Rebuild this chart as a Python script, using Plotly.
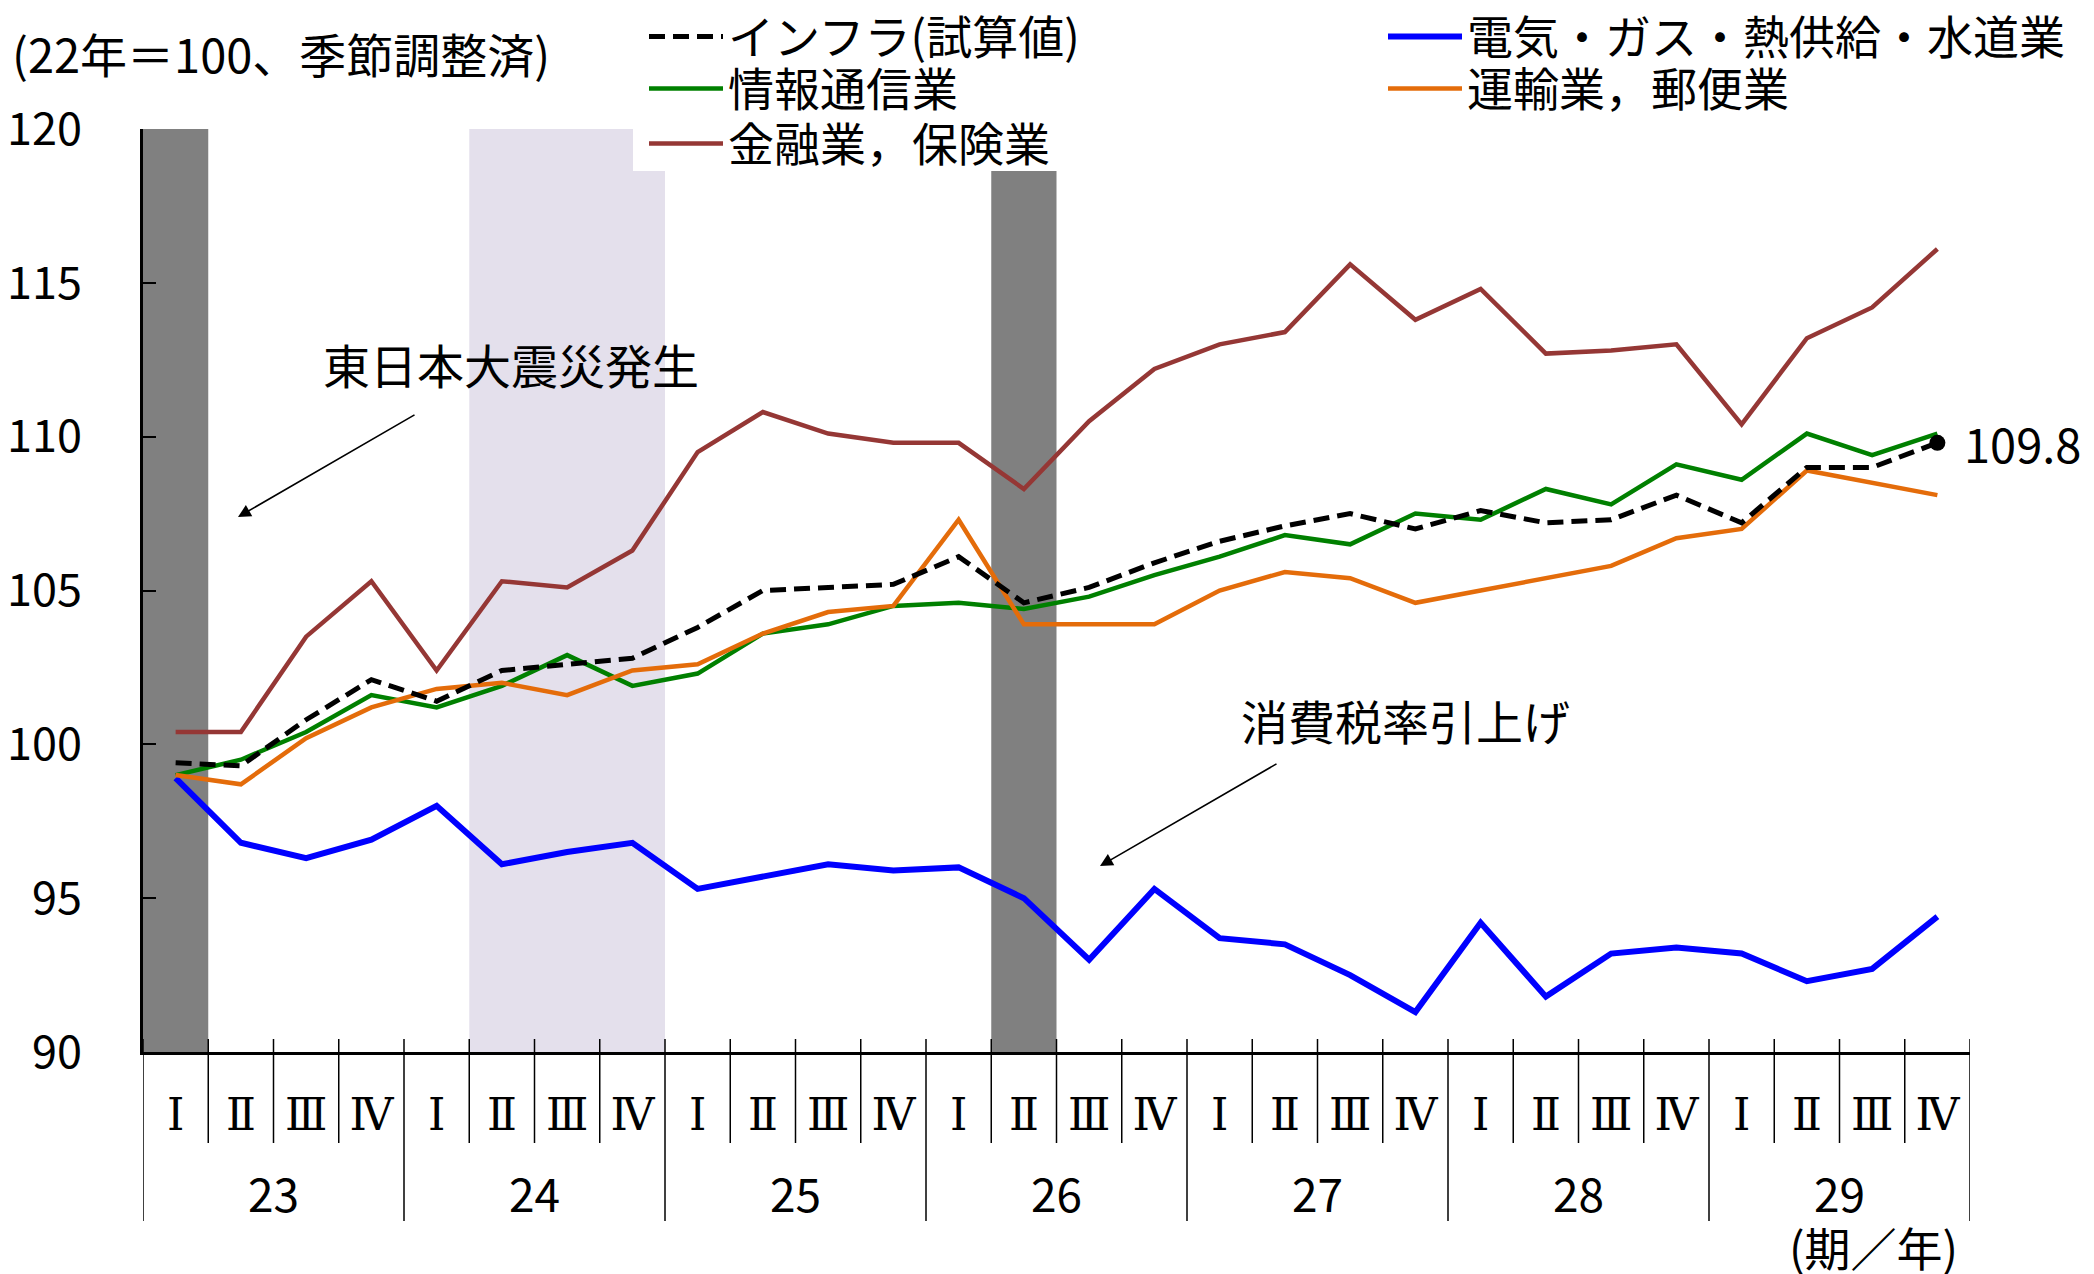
import plotly.graph_objects as go

# ---------------- data ----------------
years = ["23", "24", "25", "26", "27", "28", "29"]
quarter_names = ["Ⅰ", "Ⅱ", "Ⅲ", "Ⅳ"]
quarter_labels = quarter_names * len(years)

infra = [99.4, 99.3, 100.8, 102.1, 101.4, 102.4, 102.6, 102.8, 103.8, 105.0, 105.1, 105.2, 106.1, 104.6,
         105.1, 105.9, 106.6, 107.1, 107.5, 107.0, 107.6, 107.2, 107.3, 108.1, 107.2, 109.0, 109.0, 109.8]
elec = [98.9, 96.8, 96.3, 96.9, 98.0, 96.1, 96.5, 96.8, 95.3, 95.7, 96.1, 95.9, 96.0, 95.0,
        93.0, 95.3, 93.7, 93.5, 92.5, 91.3, 94.2, 91.8, 93.2, 93.4, 93.2, 92.3, 92.7, 94.4]
info = [99.0, 99.5, 100.4, 101.6, 101.2, 101.9, 102.9, 101.9, 102.3, 103.6, 103.9, 104.5, 104.6, 104.4,
        104.8, 105.5, 106.1, 106.8, 106.5, 107.5, 107.3, 108.3, 107.8, 109.1, 108.6, 110.1, 109.4, 110.1]
trans = [99.0, 98.7, 100.2, 101.2, 101.8, 102.0, 101.6, 102.4, 102.6, 103.6, 104.3, 104.5, 107.3, 103.9,
         103.9, 103.9, 105.0, 105.6, 105.4, 104.6, 105.0, 105.4, 105.8, 106.7, 107.0, 108.9, 108.5, 108.1]
fin = [100.4, 100.4, 103.5, 105.3, 102.4, 105.3, 105.1, 106.3, 109.5, 110.8, 110.1, 109.8, 109.8, 108.3,
       110.5, 112.2, 113.0, 113.4, 115.6, 113.8, 114.8, 112.7, 112.8, 113.0, 110.4, 113.2, 114.2, 116.1]

y_ticks = [90, 95, 100, 105, 110, 115, 120]

dark_periods = [("23", "Ⅰ"), ("26", "Ⅱ")]          # 東日本大震災, 消費税率引上げ
light_periods = [("24", "Ⅱ"), ("24", "Ⅲ"), ("24", "Ⅳ")]

unit_text = "(22年＝100、季節調整済)"
axis_unit_text = "(期／年)"
event_texts = ["東日本大震災発生", "消費税率引上げ"]

# ---------------- figure ----------------
FONT = "Noto Sans CJK JP"
FS = 46
W, H = 2094, 1274
ML, MR, MT, MB = 143, 124, 129, 222
PW, PH = W - ML - MR, H - MT - MB

x = list(range(len(quarter_labels)))
x_range = [-0.5, len(x) - 0.5]
y_range = [y_ticks[0], y_ticks[-1]]


def qidx(y, q):
    return years.index(y) * len(quarter_names) + quarter_names.index(q)


def px_to_x(px):
    return x_range[0] + (px - ML) / PW * (x_range[1] - x_range[0])


def px_to_y(py):
    return y_range[1] - (py - MT) / PH * (y_range[1] - y_range[0])


# legend slots (left px, top px, entry width px) -> one legend per slot
COL1, COL2 = 644, 1383
legend_slots = {
    "legend": (COL1, 0, 420),
    "legend2": (COL2, 0, 620),
    "legend3": (COL1, 52, 330),
    "legend4": (COL2, 52, 620),
    "legend5": (COL1, 107, 330),
}

styles = {
    "インフラ(試算値)": dict(color="black", width=5, dash="16px,8px", legend="legend", vals=infra),
    "電気・ガス・熱供給・水道業": dict(color="#0000FF", width=6, dash="solid", legend="legend2", vals=elec),
    "情報通信業": dict(color="#008000", width=4.5, dash="solid", legend="legend3", vals=info),
    "運輸業，郵便業": dict(color="#E46C0A", width=4.5, dash="solid", legend="legend4", vals=trans),
    "金融業，保険業": dict(color="#953735", width=4.5, dash="solid", legend="legend5", vals=fin),
}
draw_order = ["電気・ガス・熱供給・水道業", "情報通信業", "金融業，保険業", "運輸業，郵便業", "インフラ(試算値)"]

fig = go.Figure()
for name in draw_order:
    s = styles[name]
    fig.add_trace(go.Scatter(
        x=x, y=s["vals"], mode="lines", name=name, legend=s["legend"],
        line=dict(color=s["color"], width=s["width"], dash=s["dash"]),
        hoverinfo="skip",
    ))

# end point marker of インフラ
fig.add_trace(go.Scatter(x=[x[-1]], y=[infra[-1]], mode="markers", showlegend=False,
                         marker=dict(color="black", size=16), hoverinfo="skip"))

shapes = []
for (yy, qq) in dark_periods:
    i = qidx(yy, qq)
    shapes.append(dict(type="rect", xref="x", yref="y", x0=i - 0.5, x1=i + 0.5,
                       y0=y_range[0], y1=y_range[1], fillcolor="#808080", line_width=0, layer="below"))
li = [qidx(yy, qq) for (yy, qq) in light_periods]
shapes.append(dict(type="rect", xref="x", yref="y", x0=min(li) - 0.5, x1=max(li) + 0.5,
                   y0=y_range[0], y1=y_range[1], fillcolor="#E4E0EC", line_width=0, layer="below"))
# white legend box area that masks the top of the shaded periods
shapes.append(dict(type="rect", xref="x", yref="y", x0=px_to_x(633), x1=px_to_x(1062),
                   y0=px_to_y(171), y1=y_range[1] + 0.5, fillcolor="white", line_width=0, layer="below"))

# category separators
for b in range(len(x) + 1):
    xb = b - 0.5
    shapes.append(dict(type="line", xref="x", yref="paper", x0=xb, x1=xb, y0=0, y1=13 / PH,
                       line=dict(color="black", width=1.5), layer="above"))
    is_year = b % len(quarter_names) == 0
    shapes.append(dict(type="line", xref="x", yref="paper", x0=xb, x1=xb, y0=0,
                       y1=-(169 if is_year else 91) / PH,
                       line=dict(color="black", width=1.5), layer="above"))

annotations = []
for j, yy in enumerate(years):
    annotations.append(dict(text=yy, xref="x", yref="paper", x=j * 4 + 1.5, y=0,
                            yanchor="middle", xanchor="center", yshift=-140, showarrow=False,
                            font=dict(size=FS)))
annotations.append(dict(text=axis_unit_text, xref="paper", yref="paper", x=(1960 - ML) / PW, y=0,
                        xanchor="right", yanchor="middle", yshift=-194, showarrow=False,
                        font=dict(size=FS)))
annotations.append(dict(text=unit_text, xref="paper", yref="paper", x=(10 - ML) / PW,
                        y=(H - MB - 53) / PH, xanchor="left", yanchor="middle", showarrow=False,
                        font=dict(size=47)))
annotations.append(dict(text=f"{infra[-1]:.1f}", xref="x", yref="y", x=x[-1], y=infra[-1],
                        xanchor="left", yanchor="middle", xshift=25, showarrow=False,
                        font=dict(size=47)))

# event annotations (text + arrow)
annotations.append(dict(text=event_texts[0], xref="paper", yref="paper", x=(321 - ML) / PW,
                        y=(H - MB - 363) / PH, xanchor="left", yanchor="middle", showarrow=False,
                        font=dict(size=47)))
annotations.append(dict(text="", xref="paper", yref="paper", x=(238 - ML) / PW, y=(H - MB - 517) / PH,
                        ax=178, ay=-103, showarrow=True, arrowhead=2, arrowsize=1.6, arrowwidth=1.6,
                        arrowcolor="black"))
annotations.append(dict(text=event_texts[1], xref="paper", yref="paper", x=(1239 - ML) / PW,
                        y=(H - MB - 719) / PH, xanchor="left", yanchor="middle", showarrow=False,
                        font=dict(size=47)))
annotations.append(dict(text="", xref="paper", yref="paper", x=(1100 - ML) / PW, y=(H - MB - 866) / PH,
                        ax=178, ay=-103, showarrow=True, arrowhead=2, arrowsize=1.6, arrowwidth=1.6,
                        arrowcolor="black"))

layout_legends = {}
for key, (lx, ty, ew) in legend_slots.items():
    layout_legends[key] = dict(
        orientation="h", xref="container", yref="container",
        x=lx / W, xanchor="left", y=1 - ty / H, yanchor="top",
        bgcolor="rgba(0,0,0,0)", borderwidth=0, entrywidth=ew, entrywidthmode="pixels",
        itemwidth=74, font=dict(size=46), traceorder="normal",
    )

fig.update_layout(
    width=W, height=H,
    margin=dict(l=ML, r=MR, t=MT, b=MB, pad=0, autoexpand=False),
    paper_bgcolor="white", plot_bgcolor="white",
    font=dict(family=FONT, size=FS, color="black"),
    showlegend=True,
    shapes=shapes,
    annotations=annotations,
    xaxis=dict(range=x_range, tickmode="array", tickvals=x, ticktext=quarter_labels,
               ticks="", showline=True, linecolor="black", linewidth=3, showgrid=False,
               zeroline=False, ticklabelstandoff=22, automargin=False,
               tickfont=dict(size=44, family="DejaVu Serif, " + FONT)),
    yaxis=dict(range=y_range, tickmode="array", tickvals=y_ticks,
               ticks="inside", ticklen=13, tickwidth=2, tickcolor="black",
               showline=True, linecolor="black", linewidth=3, showgrid=False, zeroline=False,
               ticklabelstandoff=49, automargin=False, tickfont=dict(size=45)),
    **layout_legends,
)

fig.write_html("out.html", config={"displayModeBar": False},
               post_script="document.body.style.margin='0';document.body.style.overflow='hidden';")
